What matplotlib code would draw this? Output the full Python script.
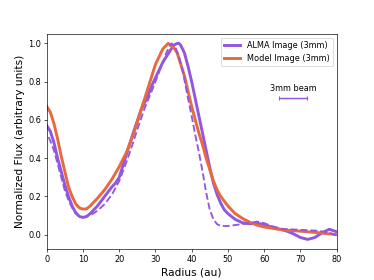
import matplotlib
matplotlib.use("Agg")
import matplotlib.pyplot as plt

# radial profiles (radius in au, normalized flux)
alma_r = [0, 1, 2, 3, 4, 5, 6, 7, 8, 9, 10, 11, 12, 14, 16, 18, 19, 20, 22, 23, 24, 26,
          28, 29, 30, 31, 32, 33, 34, 35, 36, 36.5, 37, 38, 39, 40, 41, 42, 43, 44, 45,
          46, 47, 48, 49, 50, 52, 54, 56, 58, 60, 62, 64, 66, 68, 70, 72, 74, 76, 78, 80]
alma_f = [0.57, 0.54, 0.48, 0.40, 0.33, 0.26, 0.20, 0.15, 0.115, 0.095, 0.09, 0.095, 0.11,
          0.15, 0.20, 0.25, 0.27, 0.30, 0.42, 0.48, 0.54, 0.65, 0.73, 0.78, 0.82, 0.86,
          0.90, 0.93, 0.96, 0.99, 1.0, 1.0, 0.99, 0.95, 0.88, 0.80, 0.71, 0.62, 0.53,
          0.44, 0.35, 0.27, 0.21, 0.165, 0.13, 0.11, 0.08, 0.062, 0.057, 0.06, 0.052,
          0.04, 0.03, 0.02, 0.005, -0.015, -0.025, -0.015, 0.01, 0.028, 0.015]

model_r = [0, 1, 2, 3, 4, 5, 6, 7, 8, 9, 10, 11, 12, 14, 16, 18, 20, 22, 24, 26, 28, 30,
           32, 33.5, 35, 36, 37, 38, 39, 40, 41, 42, 43, 44, 45, 46, 47, 48, 50, 52, 54,
           56, 58, 60, 65, 70, 75, 80]
model_f = [0.67, 0.64, 0.58, 0.50, 0.41, 0.33, 0.25, 0.20, 0.16, 0.14, 0.133, 0.135, 0.15,
           0.19, 0.235, 0.29, 0.355, 0.43, 0.53, 0.65, 0.77, 0.89, 0.97, 1.0, 0.98, 0.95,
           0.89, 0.83, 0.75, 0.67, 0.60, 0.53, 0.47, 0.40, 0.34, 0.28, 0.235, 0.20, 0.15,
           0.11, 0.085, 0.065, 0.05, 0.04, 0.025, 0.018, 0.01, 0.0]

dash_r = [0.5, 1, 2, 3, 4, 5, 6, 7, 8, 9, 10, 11, 12, 14, 16, 18, 20, 22, 23.6, 25, 27,
          29.6, 31, 32, 33, 34, 34.5, 35.5, 36.5, 37.5, 38.8, 40, 41, 42, 43, 44, 45, 46,
          47, 48, 50, 52, 54, 56, 58, 60, 62, 65, 70, 75, 78, 80]
dash_f = [0.51, 0.49, 0.44, 0.37, 0.30, 0.23, 0.18, 0.14, 0.11, 0.095, 0.09, 0.095, 0.10,
          0.125, 0.16, 0.21, 0.28, 0.38, 0.468, 0.55, 0.66, 0.78, 0.85, 0.90, 0.95, 0.99,
          1.0, 0.98, 0.93, 0.86, 0.73, 0.62, 0.52, 0.43, 0.33, 0.22, 0.13, 0.08, 0.055,
          0.045, 0.045, 0.05, 0.055, 0.06, 0.068, 0.06, 0.045, 0.03, 0.025, 0.02, 0.01,
          -0.005]

beam_center = 68.0
beam_halfwidth = 3.85
beam_y = 0.715

purple = '#9257e0'
orange = '#e8683f'

dpi = 374 / 6.4
fig, ax = plt.subplots(figsize=(6.4, 280 / dpi), dpi=dpi)

ax.plot(alma_r, alma_f, color=purple, lw=3.6, label='ALMA Image (3mm)')
ax.plot(model_r, model_f, color=orange, lw=3.6, label='Model Image (3mm)')
ax.plot(dash_r, dash_f, color=purple, lw=2.3, ls='--')

# beam size marker
ax.errorbar(beam_center, beam_y, xerr=beam_halfwidth, color=purple, lw=1.8,
            capsize=3, capthick=1.3)
ax.text(beam_center, beam_y + 0.025, '3mm beam', ha='center', va='bottom', fontsize=10)

ax.set_xlim(0, 80)
ax.set_xlabel('Radius (au)', fontsize=13)
ax.set_ylabel('Normalized Flux (arbitrary units)', fontsize=13)
ax.legend(loc='upper right', fontsize=10)

fig.savefig('out.png', dpi=dpi)
